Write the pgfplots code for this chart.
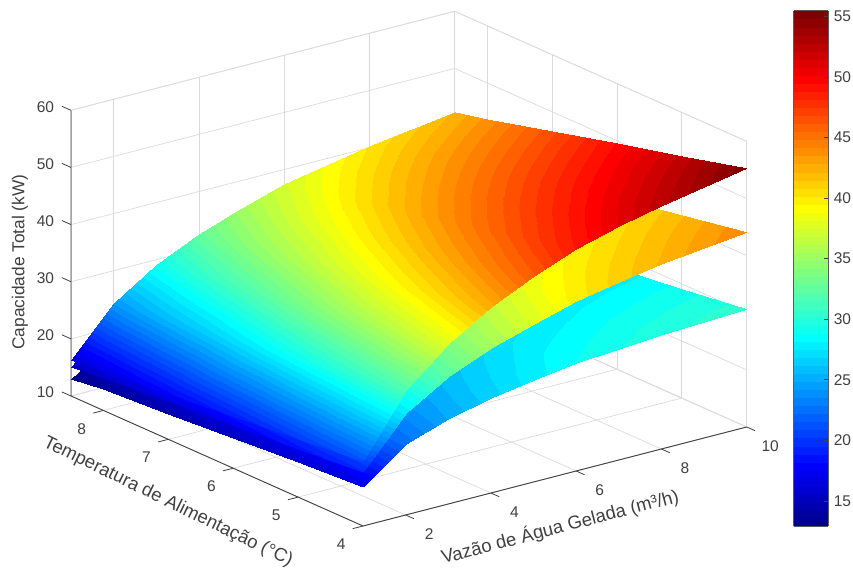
\documentclass[border=0pt]{standalone}
\usepackage{pgfplots}
\pgfplotsset{compat=1.18}
\usepackage{fontspec}
\setmainfont{Liberation Sans}
\definecolor{tk}{gray}{0.25}
\definecolor{gr}{gray}{0.86}
\begin{document}
\begin{tikzpicture}[x=1pt,y=1pt]
\useasboundingbox (0,0) rectangle (853,570);
\begin{axis}[
  at={(71pt,44pt)}, anchor=south west,
  x={(42.63pt,11pt)}, y={(-64.89pt,28.89pt)}, z={(0pt,5.714pt)},
  xmin=1,xmax=10,ymin=4,ymax=8.5,zmin=10,zmax=60,
  xtick={2,4,6,8,10}, ytick={4,5,6,7,8}, ztick={10,20,30,40,50,60},
  xtick pos=left, ytick pos=left, ztick pos=left,
  grid=major, grid style={gr,line width=0.7pt},
  axis line style={gr,line width=0.7pt},
  tick style={draw=none}, major tick length=5pt, tick align=outside,
  tick label style={font=\fontsize{15.5}{15.5}\selectfont,text=tk,/pgf/number format/assume math mode=true,anchor=center},
  xticklabel style={xshift=19pt,yshift=-17pt},
  yticklabel style={xshift=-17pt,yshift=-17pt},
  zticklabel style={xshift=-21pt,yshift=1.5pt},
  clip=false,
  colormap={mjet}{rgb(0cm)=(0,0,.5625); rgb(7cm)=(0,0,1); rgb(23cm)=(0,1,1); rgb(39cm)=(1,1,0); rgb(55cm)=(1,0,0); rgb(63cm)=(.5,0,0)},
  colormap={mjet64}{samples of colormap=(64 of mjet)},
  colormap name=mjet64,
  colormap access=piecewise constant,
  point meta min=12.9, point meta max=55.47,
  colorbar sampled,
  colorbar style={
    at={(parent axis.north east)}, anchor=north west, xshift=38.6pt, yshift=0.7pt,
    width=34.4pt, height=515.7pt, samples=65,
    ytick={15,20,25,30,35,40,45,50,55}, yticklabel pos=right, ytick pos=right, tick align=inside,
    major tick length=4pt,
    axis line style={gray!70!black,line width=0.7pt},
    tick style={draw=tk,line width=0.7pt},
    yticklabel style={font=\fontsize{15.5}{15.5}\selectfont,text=tk,anchor=west,xshift=2pt,/pgf/number format/assume math mode=true},
  },
]
% lowest surface
\addplot3[surf,shader=interp,mesh/cols=10,mesh/rows=6] table[row sep=\\] {
x y z\\
1 4 16.9\\ 2 4 22.5\\ 3 4 24.9\\ 4 4 26.6\\ 5 4 27.9\\ 6 4 28.9\\ 7 4 29.5\\ 8 4 30.0\\ 9 4 30.35\\ 10 4 30.6\\
1 5 16.09\\ 2 5 21.42\\ 3 5 23.70\\ 4 5 25.32\\ 5 5 26.56\\ 6 5 27.51\\ 7 5 28.08\\ 8 5 28.56\\ 9 5 28.89\\ 10 5 29.13\\
1 6 15.28\\ 2 6 20.34\\ 3 6 22.51\\ 4 6 24.05\\ 5 6 25.22\\ 6 6 26.13\\ 7 6 26.67\\ 8 6 27.12\\ 9 6 27.44\\ 10 6 27.66\\
1 7 14.48\\ 2 7 19.28\\ 3 7 21.34\\ 4 7 22.80\\ 5 7 23.91\\ 6 7 24.77\\ 7 7 25.28\\ 8 7 25.71\\ 9 7 26.01\\ 10 7 26.22\\
1 8 13.67\\ 2 8 18.20\\ 3 8 20.14\\ 4 8 21.52\\ 5 8 22.57\\ 6 8 23.38\\ 7 8 23.87\\ 8 8 24.27\\ 9 8 24.55\\ 10 8 24.76\\
1 8.5 13.0\\ 2 8.5 17.66\\ 3 8.5 19.55\\ 4 8.5 20.88\\ 5 8.5 21.90\\ 6 8.5 22.69\\ 7 8.5 23.16\\ 8 8.5 23.55\\ 9 8.5 23.82\\ 10 8.5 24.02\\
};
% middle surface
\addplot3[surf,shader=interp,mesh/cols=10,mesh/rows=6] table[row sep=\\] {
x y z\\
1 4 19.4\\ 2 4 27.8\\ 3 4 32.3\\ 4 4 35.3\\ 5 4 37.7\\ 6 4 39.8\\ 7 4 41.2\\ 8 4 42.3\\ 9 4 43.3\\ 10 4 44.2\\
1 5 18.49\\ 2 5 26.49\\ 3 5 30.78\\ 4 5 33.64\\ 5 5 35.93\\ 6 5 37.93\\ 7 5 39.26\\ 8 5 40.31\\ 9 5 41.26\\ 10 5 42.12\\
1 6 17.56\\ 2 6 25.16\\ 3 6 29.23\\ 4 6 31.95\\ 5 6 34.12\\ 6 6 36.02\\ 7 6 37.29\\ 8 6 38.28\\ 9 6 39.19\\ 10 6 40.00\\
1 7 16.65\\ 2 7 23.85\\ 3 7 27.71\\ 4 7 30.29\\ 5 7 32.35\\ 6 7 34.15\\ 7 7 35.35\\ 8 7 36.29\\ 9 7 37.15\\ 10 7 37.92\\
1 8 15.73\\ 2 8 22.55\\ 3 8 26.20\\ 4 8 28.63\\ 5 8 30.57\\ 6 8 32.28\\ 7 8 33.41\\ 8 8 34.31\\ 9 8 35.12\\ 10 8 35.85\\
1 8.5 15.1\\ 2 8.5 21.88\\ 3 8.5 25.42\\ 4 8.5 27.78\\ 5 8.5 29.67\\ 6 8.5 31.32\\ 7 8.5 32.42\\ 8 8.5 33.29\\ 9 8.5 34.08\\ 10 8.5 34.79\\
};
% top surface
\addplot3[surf,shader=interp,mesh/cols=10,mesh/rows=6] table[row sep=\\] {
x y z\\
1 4 21.3\\ 2 4 31.8\\ 3 4 38.0\\ 4 4 42.6\\ 5 4 46.1\\ 6 4 48.9\\ 7 4 50.9\\ 8 4 52.6\\ 9 4 54.0\\ 10 4 55.3\\
1 5 20.19\\ 2 5 30.15\\ 3 5 36.02\\ 4 5 40.38\\ 5 5 43.70\\ 6 5 46.36\\ 7 5 48.25\\ 8 5 49.86\\ 9 5 51.19\\ 10 5 52.42\\
1 6 19.08\\ 2 6 28.49\\ 3 6 34.05\\ 4 6 38.17\\ 5 6 41.31\\ 6 6 43.81\\ 7 6 45.61\\ 8 6 47.13\\ 9 6 48.38\\ 10 6 49.55\\
1 7 17.96\\ 2 7 26.81\\ 3 7 32.03\\ 4 7 35.91\\ 5 7 38.86\\ 6 7 41.22\\ 7 7 42.91\\ 8 7 44.34\\ 9 7 45.52\\ 10 7 46.62\\
1 8 16.85\\ 2 8 25.15\\ 3 8 30.06\\ 4 8 33.70\\ 5 8 36.47\\ 6 8 38.68\\ 7 8 40.26\\ 8 8 41.61\\ 9 8 42.71\\ 10 8 43.74\\
1 8.5 16.3\\ 2 8.5 24.3\\ 3 8.5 29.07\\ 4 8.5 32.6\\ 5 8.5 35.27\\ 6 8.5 37.4\\ 7 8.5 38.94\\ 8 8.5 40.24\\ 9 8.5 41.31\\ 10 8.5 42.3\\
};
\draw[tk,line width=0.9pt] (axis cs:1,8.5,60) -- (axis cs:1,8.5,10) -- (axis cs:1,4,10) -- (axis cs:10,4,10);
\pgfplotsinvokeforeach{2,4,6,8,10}{\draw[tk,line width=0.8pt] (axis cs:#1,4,10) -- (axis cs:#1,3.87,10);}
\pgfplotsinvokeforeach{4,5,6,7,8}{\draw[tk,line width=0.8pt] (axis cs:1,#1,10) -- (axis cs:0.76,#1,10);}
\pgfplotsinvokeforeach{10,20,30,40,50,60}{\draw[tk,line width=0.8pt] (axis cs:1,8.5,#1) -- (axis cs:1,8.64,#1);}
\end{axis}
\node[font=\fontsize{17.3}{17}\selectfont,text=tk,rotate=90] at (20,308) {Capacidade Total (kW)};
\node[font=\fontsize{18.5}{18}\selectfont,text=tk,rotate=14.7] at (560,43) {Vazão de Água Gelada (m³/h)};
\node[font=\fontsize{18.5}{18}\selectfont,text=tk,rotate=-26] at (168,68) {Temperatura de Alimentação (°C)};
\end{tikzpicture}
\end{document}
